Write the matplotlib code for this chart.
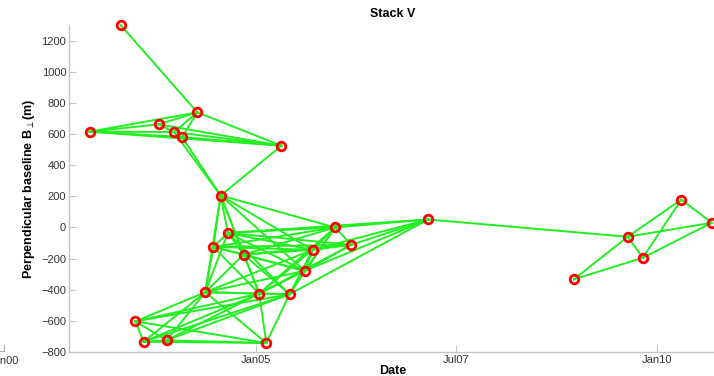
import matplotlib
matplotlib.use("Agg")
import matplotlib.pyplot as plt
import matplotlib.dates as mdates
from matplotlib.lines import Line2D
import numpy as np

# acquisition dates and perpendicular baselines (m)
dates = ["2003-04-25", "2002-12-05", "2003-10-16", "2003-12-24", "2004-01-30",
         "2004-04-09", "2005-04-27", "2004-07-24", "2004-08-26", "2004-06-21",
         "2004-11-06", "2005-12-28", "2006-03-11", "2005-09-16", "2005-08-11",
         "2004-05-15", "2005-01-16", "2005-06-03", "2003-07-02", "2003-08-08",
         "2003-11-21", "2005-02-17", "2007-02-25", "2008-12-20", "2009-08-22",
         "2009-10-30", "2010-04-23", "2010-09-09"]
bperp = [1300, 615, 662, 613, 581, 739, 525, 205, -35, -125,
         -174, 0, -112, -144, -279, -416, -425, -429, -603, -734,
         -725, -742, 51, -333, -60, -195, 179, 30]

# interferogram pairs (1-based image numbers)
pairs = [(1, 6), (2, 6), (2, 3), (2, 4), (2, 5), (2, 7), (3, 6), (3, 7), (3, 4),
         (4, 6), (4, 7), (5, 6), (5, 7), (6, 7), (7, 8), (4, 8), (5, 8),
         (8, 9), (8, 10), (8, 11), (8, 12), (8, 14), (8, 16), (8, 17), (8, 15),
         (9, 10), (9, 11), (9, 12), (9, 13), (9, 14), (9, 15), (9, 18), (9, 16), (9, 23),
         (10, 11), (10, 12), (10, 13), (10, 14), (10, 15), (10, 16), (10, 17),
         (11, 12), (11, 13), (11, 14), (11, 15), (11, 16), (11, 17), (11, 18),
         (12, 13), (12, 14), (12, 15), (12, 17), (12, 18), (12, 23),
         (13, 14), (13, 15), (13, 17), (13, 23),
         (14, 15), (14, 16), (14, 17), (14, 18), (14, 23),
         (15, 16), (15, 17), (15, 18), (15, 23), (18, 23),
         (16, 17), (16, 18), (16, 19), (16, 20), (16, 21), (16, 22),
         (17, 18), (17, 19), (17, 20), (17, 21), (17, 22),
         (18, 19), (18, 20), (18, 21), (18, 22),
         (19, 20), (19, 21), (19, 22), (20, 21), (20, 22), (21, 22),
         (23, 25), (24, 25), (24, 26), (25, 26), (25, 27), (25, 28),
         (26, 27), (26, 28), (27, 28)]

xticks = ["2005-01-01", "2007-07-01", "2010-01-01"]
xticklabels = ["Jan05", "Jul07", "Jan10"]

plt.rcParams["font.family"] = ["Liberation Sans", "DejaVu Sans"]

t = mdates.datestr2num(dates)
b = np.array(bperp, dtype=float)

W, H = 714, 376
fig = plt.figure(figsize=(W / 100, H / 100), dpi=100)
ax = fig.add_axes([69 / W, 24 / H, (717 - 69) / W, (352 - 25) / H])

for i, j in pairs:
    ax.plot([t[i - 1], t[j - 1]], [b[i - 1], b[j - 1]], color="#22ee22", lw=1.4,
            zorder=2, clip_on=False)
ax.plot(t, b, "o", ms=6.2, mfc="none", mec="#ff0000", mew=2.0, zorder=3, clip_on=False)

ax.set_xlim(mdates.datestr2num("2002-09-02"), mdates.datestr2num("2010-10-03"))
ax.set_ylim(-800, 1300)
ax.set_yticks(np.arange(-800, 1201, 200))
ax.set_xticks(mdates.datestr2num(xticks))
ax.set_xticklabels(xticklabels)

for s in ["top", "right"]:
    ax.spines[s].set_visible(False)
for s in ["left", "bottom"]:
    ax.spines[s].set_color("#c4c4c4")
    ax.spines[s].set_linewidth(1.0)
ax.tick_params(direction="in", length=5, width=0.8, color="#c4c4c4",
               labelsize=8, labelcolor="#333333", pad=2)

ax.set_xlabel("Date", fontsize=9, fontweight="bold", labelpad=0)
ax.set_ylabel(r"Perpendicular baseline B$_\perp$(m)", fontsize=9,
              fontweight="bold", labelpad=3)
ax.set_title("Stack V", fontsize=9, fontweight="bold", pad=6)

# leftover of the neighbouring panel at the left edge
fig.text(-11 / W, 1 - 361 / H, "Jan00", fontsize=8, color="#333333",
         ha="left", va="center")
fig.add_artist(Line2D([0, 4 / W, 4 / W], [1 - 351 / H, 1 - 351 / H, 1 - 345 / H],
                      transform=fig.transFigure, color="#aaaaaa", lw=0.8))

fig.savefig("out.png", dpi=100)
